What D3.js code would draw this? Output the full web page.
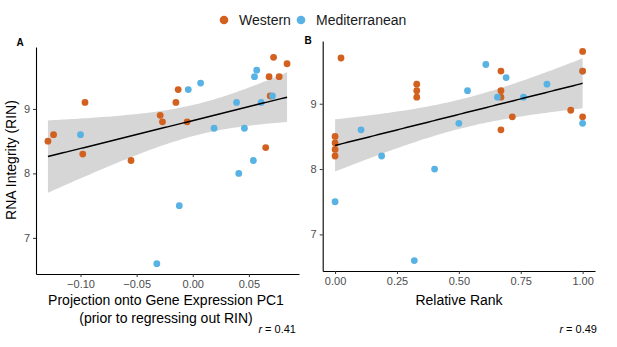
<!DOCTYPE html>
<html>
<head>
<meta charset="utf-8">
<script src="https://cdn.jsdelivr.net/npm/d3@7"></script>
<style>
  body { margin: 0; background: #fff; }
  svg { font-family: "Liberation Sans", Arial, sans-serif; }
</style>
</head>
<body>
<svg id="chart" width="617" height="347"></svg>
<script>
// Panel A: projection onto PC1 vs RIN
const westernPc1 = [-0.129, -0.124, -0.096, -0.098, -0.055, -0.029, -0.027, -0.015, -0.013, -0.005, 0.065, 0.068, 0.072, 0.077, 0.084, 0.069];
const westernRinA = [8.5, 8.6, 9.1, 8.3, 8.2, 8.9, 8.8, 9.1, 9.3, 8.8, 8.4, 9.5, 9.8, 9.5, 9.7, 9.2];
const medPc1 = [-0.100, -0.004, 0.007, -0.012, -0.032, 0.019, 0.039, 0.041, 0.046, 0.055, 0.057, 0.054, 0.061, 0.071];
const medRinA = [8.6, 9.3, 9.4, 7.5, 6.6, 8.7, 9.1, 8.0, 8.7, 9.5, 9.6, 8.2, 9.1, 9.2];

// Panel B: relative rank vs RIN (first Mediterranean point sits under a Western one)
const westernRank = [0, 0, 0, 0, 0.024, 0.33, 0.33, 0.33, 0.67, 0.67, 0.67, 0.67, 0.716, 0.952, 1, 1, 1];
const westernRinB = [8.5, 8.4, 8.3, 8.2, 9.7, 9.3, 9.2, 9.1, 9.5, 9.2, 9.1, 8.6, 8.8, 8.9, 9.8, 9.5, 8.8];
const medRank = [1, 0, 0.105, 0.188, 0.32, 0.402, 0.5, 0.535, 0.609, 0.656, 0.691, 0.761, 0.856, 1];
const medRinB = [9.5, 7.5, 8.6, 8.2, 6.6, 8.0, 8.7, 9.2, 9.6, 9.1, 9.4, 9.1, 9.3, 8.7];

const groups = ["Western", "Mediterranean"];
const groupColors = ["#D2601F", "#58B2E3"];
const yTicks = [7, 8, 9];
const xTicksA = [-0.10, -0.05, 0.00, 0.05];
const xTicksB = [0, 0.25, 0.5, 0.75, 1];
const rValues = ["0.41", "0.49"];

const svg = d3.select("#chart");
const color = d3.scaleOrdinal().domain(groups).range(groupColors);

// legend
const legend = svg.append("g");
const legendX = [224, 301];
groups.forEach((g, i) => {
  legend.append("circle").attr("cx", legendX[i]).attr("cy", 20).attr("r", 4.3).attr("fill", color(g));
  legend.append("text").attr("x", legendX[i] + 15).attr("y", 25)
    .style("font-size", "14px").attr("fill", "#1a1a1a").text(g);
});

// least squares fit + 95% confidence band, like geom_smooth(method = "lm")
function fitBand(xs, ys, lo, hi) {
  const n = xs.length;
  const mx = d3.mean(xs), my = d3.mean(ys);
  let sxx = 0, sxy = 0;
  xs.forEach((x, i) => { sxx += (x - mx) ** 2; sxy += (x - mx) * (ys[i] - my); });
  const b = sxy / sxx, a = my - b * mx;
  let sse = 0;
  xs.forEach((x, i) => { sse += (ys[i] - a - b * x) ** 2; });
  const s = Math.sqrt(sse / (n - 2));
  const t = 2.048;
  return d3.range(0, 81).map(k => {
    const x = lo + (hi - lo) * k / 80;
    const yhat = a + b * x;
    const se = s * Math.sqrt(1 / n + (x - mx) ** 2 / sxx);
    return { x, y: yhat, lo: yhat - t * se, hi: yhat + t * se };
  });
}

function drawPanel(opts) {
  const { xs1, ys1, xs2, ys2, under, xRange, yRange, xTicks, xFormat, label, labelPos, r, rX } = opts;
  const allX = xs1.concat(xs2), allY = ys1.concat(ys2);
  const xExt = d3.extent(allX), yExt = d3.extent(allY);
  const xPad = (xExt[1] - xExt[0]) * 0.05, yPad = (yExt[1] - yExt[0]) * 0.05;
  const x = d3.scaleLinear().domain([xExt[0] - xPad, xExt[1] + xPad]).range(xRange);
  const y = d3.scaleLinear().domain([yExt[0] - yPad, yExt[1] + yPad]).range(yRange);

  const g = svg.append("g");

  const band = fitBand(allX, allY, xExt[0], xExt[1]);
  g.append("path").datum(band)
    .attr("fill", "#d6d6d6")
    .attr("d", d3.area().x(d => x(d.x)).y0(d => y(d.lo)).y1(d => y(d.hi)));

  const west = xs1.map((v, i) => ({ x: v, y: ys1[i], grp: "Western" }));
  const med = xs2.map((v, i) => ({ x: v, y: ys2[i], grp: "Mediterranean" }));
  // draw order: hidden med points, then western, then the rest
  const pts = med.slice(0, under).concat(west, med.slice(under));
  g.selectAll(".dot").data(pts).enter().append("circle")
    .attr("class", "dot")
    .attr("cx", d => x(d.x))
    .attr("cy", d => y(d.y))
    .attr("r", 3.4)
    .attr("fill", d => color(d.grp));

  g.append("path").datum(band)
    .attr("fill", "none").attr("stroke", "#000").attr("stroke-width", 1.5)
    .attr("d", d3.line().x(d => x(d.x)).y(d => y(d.y)));

  // axes
  const xAxis = g.append("g").attr("transform", `translate(0,${yRange[0]})`)
    .call(d3.axisBottom(x).tickValues(xTicks).tickFormat(xFormat).tickSize(3).tickPadding(3).tickSizeOuter(0));
  const yAxis = g.append("g").attr("transform", `translate(${xRange[0]},0)`)
    .call(d3.axisLeft(y).tickValues(yTicks).tickFormat(d3.format("d")).tickSize(3).tickPadding(3).tickSizeOuter(0));
  [xAxis, yAxis].forEach(ax => {
    ax.select(".domain").attr("stroke", "#000").attr("stroke-width", 1.1);
    ax.selectAll(".tick line").attr("stroke", "#333");
    ax.selectAll(".tick text").attr("fill", "#4d4d4d").style("font-size", "11px").style("font-family", "Liberation Sans, Arial, sans-serif");
  });

  g.append("text").attr("x", labelPos[0]).attr("y", labelPos[1])
    .style("font-size", "10px").style("font-weight", "bold").attr("text-anchor", "middle").text(label);

  const rt = g.append("text").attr("x", rX).attr("y", 333).attr("text-anchor", "end").style("font-size", "11px");
  rt.append("tspan").style("font-style", "italic").text("r");
  rt.append("tspan").text(" = " + r);
  return g;
}

const gA = drawPanel({
  xs1: westernPc1, ys1: westernRinA, xs2: medPc1, ys2: medRinA, under: 0,
  xRange: [36, 299], yRange: [274, 47],
  xTicks: xTicksA, xFormat: d3.format(".2f"),
  label: "A", labelPos: [20, 46], r: rValues[0], rX: 296
});
const gB = drawPanel({
  xs1: westernRank, ys1: westernRinB, xs2: medRank, ys2: medRinB, under: 1,
  xRange: [322.7, 595], yRange: [271, 41],
  xTicks: xTicksB, xFormat: d3.format(".2f"),
  label: "B", labelPos: [308, 44], r: rValues[1], rX: 597
});

// axis titles
gA.append("text").attr("x", 166).attr("y", 305).attr("text-anchor", "middle")
  .style("font-size", "14px").text("Projection onto Gene Expression PC1");
gA.append("text").attr("x", 166).attr("y", 323).attr("text-anchor", "middle")
  .style("font-size", "14px").text("(prior to regressing out RIN)");
gA.append("text").attr("transform", "translate(16,160) rotate(-90)").attr("text-anchor", "middle")
  .style("font-size", "14px").text("RNA Integrity (RIN)");
gB.append("text").attr("x", 459).attr("y", 305).attr("text-anchor", "middle")
  .style("font-size", "14px").text("Relative Rank");
</script>
</body>
</html>
